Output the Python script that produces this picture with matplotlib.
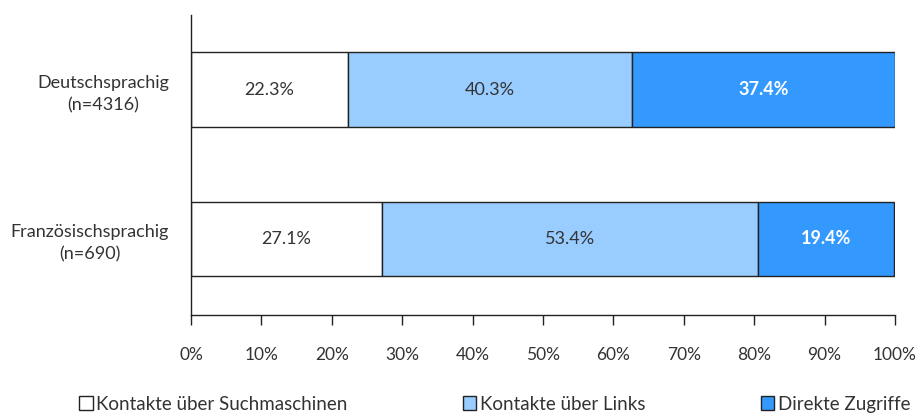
import matplotlib.pyplot as plt
import numpy as np

# data
groups = ['Deutschsprachig\n(n=4316)', 'Französischsprachig\n(n=690)']
series = ['Kontakte über Suchmaschinen', 'Kontakte über Links', 'Direkte Zugriffe']
values = {
    'Kontakte über Suchmaschinen': [22.3, 27.1],
    'Kontakte über Links': [40.3, 53.4],
    'Direkte Zugriffe': [37.4, 19.4],
}
xticks = [0, 10, 20, 30, 40, 50, 60, 70, 80, 90, 100]

colors = ['#FFFFFF', '#99CCFF', '#3399FF']
text_colors = ['#333333', '#333333', '#FFFFFF']
text_weights = ['normal', 'normal', 'bold']

plt.rcParams['font.family'] = ['Lato', 'DejaVu Sans']

fig = plt.figure(figsize=(9.2, 4.15), dpi=100)
ax = fig.add_axes([191 / 920, 100 / 415, 704 / 920, 300 / 415])

ypos = np.array([1, 0])
left = np.zeros(len(groups))
bars = []
for i, name in enumerate(series):
    vals = np.array(values[name])
    b = ax.barh(ypos, vals, left=left, height=0.5, color=colors[i],
                edgecolor='#222222', linewidth=1.0, label=name)
    bars.append(b)
    for y, l, v in zip(ypos, left, vals):
        ax.text(l + v / 2, y, f'{v:.1f}%', ha='center', va='center',
                fontsize=13, color=text_colors[i], weight=text_weights[i])
    left = left + vals

ax.set_xlim(0, 100)
ax.set_ylim(-0.51, 1.5)
ax.set_xticks(xticks)
ax.set_xticklabels([f'{t}%' for t in xticks])
ax.set_yticks(ypos)
ax.set_yticklabels(groups, ha='right', multialignment='center', linespacing=1.45)

for s in ['top', 'right']:
    ax.spines[s].set_visible(False)
for s in ['left', 'bottom']:
    ax.spines[s].set_color('#222222')
    ax.spines[s].set_linewidth(1.0)

ax.tick_params(axis='x', direction='out', length=7, width=1, color='#222222',
               pad=16, labelsize=12.5, labelcolor='#333333')
ax.tick_params(axis='y', length=0, pad=16, labelsize=13, labelcolor='#333333')

fig.legend(handles=bars, labels=series, loc='center left',
           bbox_to_anchor=(70 / 920, 11 / 415), ncol=3, frameon=False,
           fontsize=13.5, handlelength=0.7, handleheight=0.7,
           handletextpad=0.2, columnspacing=6.15, borderpad=0,
           labelcolor='#333333')

fig.savefig('out.png', dpi=100)
